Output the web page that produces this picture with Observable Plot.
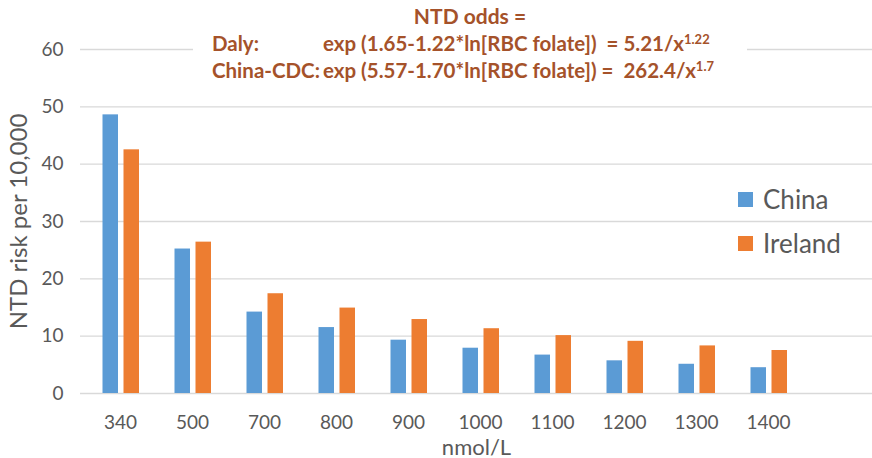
<!DOCTYPE html>
<html>
<head>
<meta charset="utf-8">
<script src="https://cdn.jsdelivr.net/npm/d3@7"></script>
<script src="https://cdn.jsdelivr.net/npm/@observablehq/plot@0.6"></script>
<style>
  html, body { margin: 0; padding: 0; background: #fff; }
  #wrap { position: relative; width: 872px; height: 458px; overflow: hidden; font-family: Lato, "Open Sans", sans-serif; }
  #title { position: absolute; left: 193px; top: 0; width: 554px; height: 88px; background: #fff;
           color: #a5522a; font-weight: bold; font-size: 20.5px; font-family: Lato, sans-serif; }
  #title .l1 { position: absolute; top: 3px; left: 0; width: 100%; text-align: center; font-size: 21px; }
  #title .l2, #title .l3 { position: absolute; left: 19px; white-space: pre; }
  #title .l2 { top: 31px; }
  #title .l3 { top: 58px; }
  #title .lab { display: inline-block; width: 111px; }
  #title sup { font-size: 13px; vertical-align: 7px; line-height: 0; }
  #legend { position: absolute; left: 738px; top: 177px; font-size: 26px; color: #595959; font-family: Lato, sans-serif; }
  #legend .item { display: flex; align-items: center; height: 44px; }
  #legend .sw { width: 15px; height: 15px; margin-right: 10px; }
</style>
</head>
<body>
<div id="wrap"></div>
<script>
const categories = ["340", "500", "700", "800", "900", "1000", "1100", "1200", "1300", "1400"];
const china   = [48.6, 25.2, 14.2, 11.5, 9.3, 7.9, 6.7, 5.7, 5.1, 4.5];
const ireland = [42.5, 26.4, 17.4, 14.9, 12.9, 11.3, 10.1, 9.1, 8.3, 7.5];
const yTicks = [0, 10, 20, 30, 40, 50, 60];
const seriesNames = ["China", "Ireland"];
const seriesColors = ["#5b9bd5", "#ed7d31"];

const data = categories.flatMap((c, i) => [
  {cat: c, series: "China", value: china[i]},
  {cat: c, series: "Ireland", value: ireland[i]}
]);

const chart = Plot.plot({
  width: 872,
  height: 458,
  marginLeft: 80,
  marginRight: 0,
  marginTop: 49,
  marginBottom: 65,
  style: {fontFamily: "Lato, sans-serif", background: "white"},
  x: {type: "band", domain: categories, range: [80, 807], padding: 0},
  y: {domain: [0, 60], ticks: yTicks},
  color: {domain: seriesNames, range: seriesColors},
  marks: [
    Plot.ruleY(yTicks, {stroke: "#d9d9d9", strokeWidth: 1.3}),
    Plot.barY(data.filter(d => d.series === "China"), {x: "cat", y: "value", fill: "series", insetLeft: 18.5, insetRight: 38}),
    Plot.barY(data.filter(d => d.series === "Ireland"), {x: "cat", y: "value", fill: "series", insetLeft: 39.5, insetRight: 17}),
    Plot.axisY({ticks: yTicks, tickSize: 0, tickPadding: 17, fontSize: 19, fill: "#595959",
      label: "NTD risk per 10,000", labelAnchor: "center", labelArrow: "none", labelOffset: 71}),
    Plot.axisX({tickSize: 0, tickPadding: 22, fontSize: 19, fill: "#595959", label: null}),
    Plot.axisX({ticks: [], tickSize: 0, fontSize: 22, fill: "#595959",
      label: "nmol/L", labelAnchor: "center", labelArrow: "none", labelOffset: 61})
  ]
});

chart.querySelectorAll("g[aria-label='y-axis label']").forEach(g => {
  g.setAttribute("font-size", "24");
  g.querySelectorAll("text").forEach(t => t.style.fontSize = "24px");
});
chart.querySelectorAll("g[aria-label='x-axis label']").forEach(g => {
  g.setAttribute("font-size", "22");
  g.querySelectorAll("text").forEach(t => t.style.fontSize = "22px");
});

const wrap = document.getElementById("wrap");
wrap.appendChild(chart);

const title = document.createElement("div");
title.id = "title";
title.innerHTML =
  '<div class="l1">NTD odds =</div>' +
  '<div class="l2"><span class="lab">Daly:</span>exp (1.65-1.22*ln[RBC folate])  = 5.21/x<sup>1.22</sup></div>' +
  '<div class="l3"><span class="lab">China-CDC:</span>exp (5.57-1.70*ln[RBC folate]) =  262.4/x<sup>1.7</sup></div>';
wrap.appendChild(title);

const legend = document.createElement("div");
legend.id = "legend";
legend.innerHTML = seriesNames.map((s, i) =>
  `<div class="item"><span class="sw" style="background:${seriesColors[i]}"></span>${s}</div>`).join("");
wrap.appendChild(legend);
</script>
</body>
</html>
